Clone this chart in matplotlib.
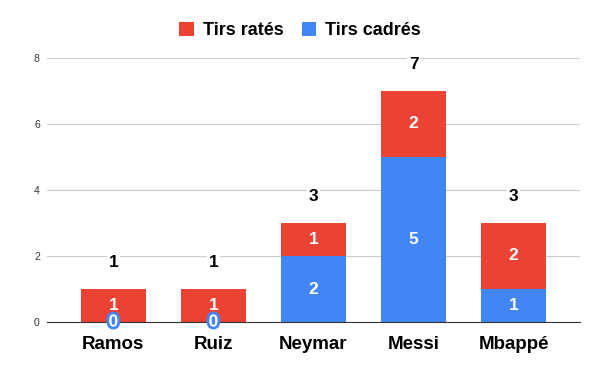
import matplotlib.pyplot as plt
import matplotlib.patheffects as pe
import numpy as np

plt.rcParams['font.family'] = ['Liberation Sans', 'DejaVu Sans']

players = ['Ramos', 'Ruiz', 'Neymar', 'Messi', 'Mbappé']
cadres = [0, 0, 2, 5, 1]
rates = [1, 1, 1, 2, 2]
yticks = [0, 2, 4, 6, 8]

blue = '#4285F4'
red = '#EA4335'

fig = plt.figure(figsize=(6, 3.71), dpi=100)
ax = fig.add_axes([0.078, 0.132, 0.889, 0.712])

x = np.arange(len(players))
w = 0.65
ax.bar(x, cadres, w, color=blue, label='Tirs cadrés', zorder=2)
ax.bar(x, rates, w, bottom=cadres, color=red, label='Tirs ratés', zorder=2)

for i in range(len(players)):
    c = cadres[i]
    r = rates[i]
    if c > 0:
        ax.text(x[i], c / 2, str(c), ha='center', va='center', color='white',
                fontsize=12.5, fontweight='bold', zorder=3)
    else:
        ax.text(x[i], 0, str(c), ha='center', va='center', color='white',
                fontsize=12.5, fontweight='bold', zorder=4,
                path_effects=[pe.withStroke(linewidth=4, foreground=blue)])
    ax.text(x[i], c + r / 2, str(r), ha='center', va='center', color='white',
            fontsize=12.5, fontweight='bold', zorder=3)
    ax.text(x[i], c + r + 0.8, str(c + r), ha='center', va='center', color='black',
            fontsize=12.5, fontweight='bold', zorder=3,
            bbox=dict(facecolor='white', edgecolor='none', pad=1))

ax.set_xlim(-0.665, 4.665)
ax.set_ylim(0, 8)
ax.set_yticks(yticks)
ax.set_yticklabels([str(t) for t in yticks], fontsize=7.5, color='#333333')
ax.set_xticks(x)
ax.set_xticklabels(players, fontsize=13.5, fontweight='bold')
ax.tick_params(axis='both', length=0)
ax.tick_params(axis='x', pad=10)
ax.tick_params(axis='y', pad=5)
ax.grid(axis='y', color='#cccccc', linewidth=0.8, zorder=0)
for s in ['top', 'right', 'left']:
    ax.spines[s].set_visible(False)
ax.spines['bottom'].set_color('#333333')
ax.spines['bottom'].set_zorder(3)

handles, labels = ax.get_legend_handles_labels()
fig.legend(handles[::-1], labels[::-1], loc='center', bbox_to_anchor=(0.5, 0.918),
           ncol=2, frameon=False, prop={'size': 13, 'weight': 'bold'},
           handlelength=0.8, handleheight=0.8, handletextpad=0.5, columnspacing=1.0)

fig.savefig('out.png', dpi=100)
